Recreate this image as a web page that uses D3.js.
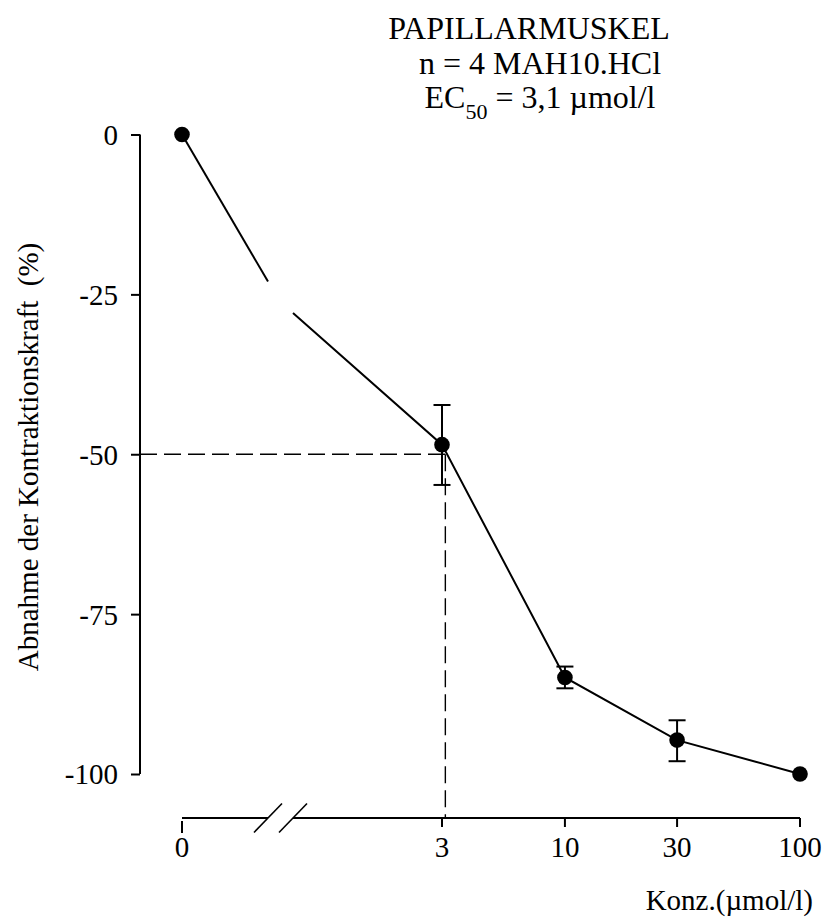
<!DOCTYPE html>
<html>
<head>
<meta charset="utf-8">
<script src="https://cdn.jsdelivr.net/npm/d3@7"></script>
<style>
  html, body { margin: 0; padding: 0; background: #fff; }
  svg { display: block; }
  text { font-family: "Liberation Serif", "Times New Roman", serif; fill: #000; }
</style>
</head>
<body>
<svg id="chart" width="826" height="922"></svg>
<script>
// ---- data ----
const concentrations = [0, 3, 10, 30, 100];          // µmol/l
const meanValues     = [0, -48.5, -84.9, -94.7, -100]; // % change
const errUpper       = [null, -42.3, -83.2, -91.6, null];
const errLower       = [null, -54.8, -86.6, -98.0, null];
const xTickLabels    = ["0", "3", "10", "30", "100"];
const yTicks         = [0, -25, -50, -75, -100];
const ec50           = 3.1;
const ec50Level      = -50;
// values where the connecting line meets the axis-break gap (left edge, right edge)
const gapValues      = [-23.0, -27.9];
const titleLines     = ["PAPILLARMUSKEL", "n = 4 MAH10.HCl"];

// ---- layout ----
const svg = d3.select("#chart");
const yAxisX = 140;
const xAxisY = 818;
const breakL = 268, breakR = 293;

const y = d3.scaleLinear().domain([0, -100]).range([134.5, 774]);
const xLog = d3.scaleLog().domain([3, 100]).range([442, 800]);
const xLin = d3.scaleLinear().domain([0, 1]).range([182, breakL]); // 1 = left edge of break
const xRightEdge = xLog.invert(breakR);
const x = c => (c === 0 ? xLin(0) : xLog(c));

const fs = 29;

// ---- y axis ----
const yAxis = svg.append("g").attr("transform", `translate(${yAxisX},0)`)
  .call(d3.axisLeft(y).tickValues(yTicks).tickSize(9).tickPadding(13).tickFormat(d => String(d)));
yAxis.attr("font-family", null);
yAxis.select(".domain").attr("d", `M0,${y(0)}V${y(-100)}`).attr("stroke-width", 2);
yAxis.selectAll(".tick line").attr("stroke-width", 2);
yAxis.selectAll(".tick text").attr("font-size", fs).attr("dy", "0.34em");

// ---- x axis (with break) ----
const gx = svg.append("g");
gx.append("line").attr("x1", xLin(0)).attr("x2", xLin(1)).attr("y1", xAxisY).attr("y2", xAxisY)
  .attr("stroke", "#000").attr("stroke-width", 2);
gx.append("line").attr("x1", breakR).attr("x2", xLog(100)).attr("y1", xAxisY).attr("y2", xAxisY)
  .attr("stroke", "#000").attr("stroke-width", 2);
[breakL, breakR].forEach(bx => {
  gx.append("line").attr("x1", bx - 14).attr("y1", xAxisY + 14.5).attr("x2", bx + 14).attr("y2", xAxisY - 14.5)
    .attr("stroke", "#000").attr("stroke-width", 1.6);
});
concentrations.forEach((c, i) => {
  const px = x(c);
  gx.append("line").attr("x1", px).attr("x2", px)
    .attr("y1", c === 0 ? xAxisY + 3 : xAxisY).attr("y2", c === 0 ? xAxisY + 15 : xAxisY + 9)
    .attr("stroke", "#000").attr("stroke-width", 2);
  gx.append("text").attr("x", px).attr("y", 857).attr("text-anchor", "middle")
    .attr("font-size", fs).text(xTickLabels[i]);
});

// ---- labels ----
svg.append("text").attr("transform", "translate(38,457) rotate(-90)").attr("text-anchor", "middle")
  .attr("font-size", fs).attr("xml:space", "preserve").text("Abnahme der Kontraktionskraft  (%)");
svg.append("text").attr("x", 813).attr("y", 910).attr("text-anchor", "end")
  .attr("font-size", fs).text("Konz.(µmol/l)");

// ---- title ----
svg.append("text").attr("x", 529).attr("y", 39).attr("text-anchor", "middle").attr("font-size", 32).text(titleLines[0]);
svg.append("text").attr("x", 540).attr("y", 74).attr("text-anchor", "middle").attr("font-size", 32).text(titleLines[1]);
const t3 = svg.append("text").attr("x", 540).attr("y", 108).attr("text-anchor", "middle").attr("font-size", 32);
t3.append("tspan").text("EC");
t3.append("tspan").attr("font-size", 22).attr("dy", 11).text("50");
t3.append("tspan").attr("dy", -11).text(" = " + String(ec50).replace(".", ",") + " µmol/l");

// ---- EC50 dashed guides ----
svg.append("line").attr("x1", yAxisX).attr("x2", xLog(ec50)).attr("y1", y(ec50Level)).attr("y2", y(ec50Level))
  .attr("stroke", "#000").attr("stroke-width", 1.4).attr("stroke-dasharray", "17,7");
svg.append("line").attr("x1", xLog(ec50)).attr("x2", xLog(ec50)).attr("y1", y(ec50Level)).attr("y2", xAxisY)
  .attr("stroke", "#000").attr("stroke-width", 1.4).attr("stroke-dasharray", "17,7");

// ---- connecting line (interrupted at the axis break) ----
const line = d3.line().x(d => d.px).y(d => y(d.v));
const seg1 = [{ px: xLin(0), v: meanValues[0] }, { px: xLin(1), v: gapValues[0] }];
const seg2 = [{ px: xLog(xRightEdge), v: gapValues[1] }]
  .concat(concentrations.slice(1).map((c, i) => ({ px: xLog(c), v: meanValues[i + 1] })));
[seg1, seg2].forEach(s => svg.append("path").attr("d", line(s)).attr("fill", "none")
  .attr("stroke", "#000").attr("stroke-width", 2));

// ---- error bars ----
concentrations.forEach((c, i) => {
  if (errUpper[i] == null) return;
  const px = x(c);
  const g = svg.append("g").attr("stroke", "#000").attr("stroke-width", 2);
  g.append("line").attr("x1", px).attr("x2", px).attr("y1", y(errUpper[i])).attr("y2", y(errLower[i]));
  [errUpper[i], errLower[i]].forEach(v => g.append("line").attr("x1", px - 8.5).attr("x2", px + 8.5)
    .attr("y1", y(v)).attr("y2", y(v)));
});

// ---- points ----
svg.selectAll("circle.pt").data(concentrations).enter().append("circle").attr("class", "pt")
  .attr("cx", d => x(d)).attr("cy", (d, i) => y(meanValues[i])).attr("r", 7.8).attr("fill", "#000");
</script>
</body>
</html>
